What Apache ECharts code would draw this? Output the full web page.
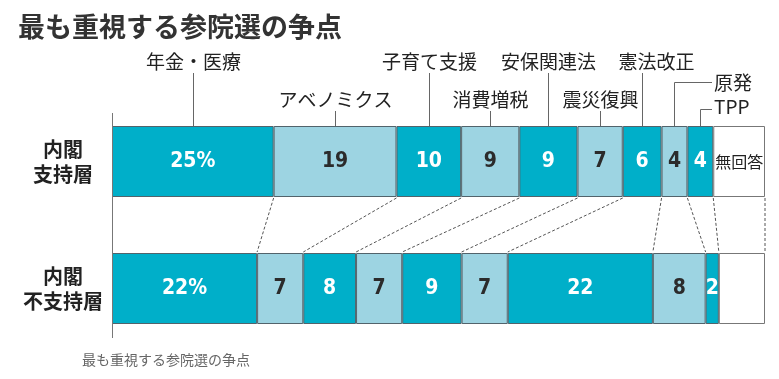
<!DOCTYPE html>
<html><head><meta charset="utf-8">
<script src="https://cdn.jsdelivr.net/npm/echarts@6/dist/echarts.min.js"></script>
<style>html,body{margin:0;padding:0;background:#fff}#c{width:779px;height:379px}</style>
</head><body><div id="c"></div>
<script>
const titleText = '最も重視する参院選の争点';
const footerText = '最も重視する参院選の争点';
const groups = ['内閣\n支持層', '内閣\n不支持層'];
const issues = ['年金・医療', 'アベノミクス', '子育て支援', '消費増税', '安保関連法', '震災復興', '憲法改正', '原発', 'TPP', '無回答'];
const support = [25, 19, 10, 9, 9, 7, 6, 4, 4, 8];
const nonSupport = [22, 7, 8, 7, 9, 7, 22, 8, 2, 7];

const DARK = '#00AFC9', LIGHT = '#9DD4E2', BORDER = '#52636b';
const NUMFONT = "'Liberation Sans Narrow','DejaVu Sans Condensed','Liberation Sans',sans-serif";
const CJK = "'Noto Sans CJK JP','Noto Sans',sans-serif";
const BARW = 71;

function colorOf(i) { return i === issues.length - 1 ? '#ffffff' : (i % 2 === 0 ? DARK : LIGHT); }
function textColorOf(i) { return i % 2 === 0 ? '#ffffff' : '#2b2b2b'; }

const sum = a => a.reduce((s, v) => s + v, 0);
const series = [];
issues.forEach((name, i) => {
  const last = i === issues.length - 1;
  const baseLabel = {
    show: true, position: 'inside',
    color: last ? '#222' : textColorOf(i),
    fontFamily: last ? CJK : NUMFONT,
    fontWeight: last ? 'normal' : 'bold',
    fontSize: last ? 16 : 21
  };
  series.push({
    name: name, type: 'bar', stack: 'top', xAxisIndex: 0, yAxisIndex: 0,
    barWidth: BARW, barGap: '-100%',
    itemStyle: { color: colorOf(i), borderColor: last ? '#777' : BORDER, borderWidth: 1 },
    label: Object.assign({}, baseLabel, { formatter: last ? '無回答' : (i === 0 ? '{c}%' : '{c}') }),
    data: [support[i], '-']
  });
  series.push({
    name: name, type: 'bar', stack: 'bottom', xAxisIndex: 1, yAxisIndex: 0,
    barWidth: BARW, barGap: '-100%',
    itemStyle: { color: colorOf(i), borderColor: last ? '#777' : BORDER, borderWidth: 1 },
    label: Object.assign({}, baseLabel, { show: !last, formatter: i === 0 ? '{c}%' : '{c}' }),
    data: ['-', nonSupport[i]]
  });
});

const option = {
  animation: false,
  backgroundColor: '#fff',
  title: [
    { text: titleText, left: 13, top: 8, textStyle: { fontFamily: CJK, fontSize: 27, fontWeight: 'bold', color: '#333' } },
    { text: footerText, left: 77, top: 348, textStyle: { fontFamily: CJK, fontSize: 14, fontWeight: 'normal', color: '#666' } }
  ],
  grid: { left: 112, right: 14, top: 98, height: 254 },
  xAxis: [
    { type: 'value', min: 0, max: sum(support), show: false },
    { type: 'value', min: 0, max: sum(nonSupport), show: false }
  ],
  yAxis: {
    type: 'category', data: groups, inverse: true,
    axisLine: { show: false }, axisTick: { show: false }, splitLine: { show: false },
    axisLabel: { color: '#222', fontFamily: CJK, fontWeight: 'bold', fontSize: 20, lineHeight: 25, align: 'center', margin: 49 }
  },
  series: series
};

const chart = echarts.init(document.getElementById('c'));
chart.setOption(option);

// overlays computed from the chart's own scales
const cum = a => { const r = [0]; a.forEach(v => r.push(r[r.length - 1] + v)); return r; };
const cT = cum(support), cB = cum(nonSupport);
const xT = v => chart.convertToPixel({ xAxisIndex: 0 }, v);
const xB = v => chart.convertToPixel({ xAxisIndex: 1 }, v);
const yT = chart.convertToPixel({ yAxisIndex: 0 }, 0);
const yB = chart.convertToPixel({ yAxisIndex: 0 }, 1);
const topTop = yT - BARW / 2, topBot = yT + BARW / 2, botTop = yB - BARW / 2, botBot = yB + BARW / 2;
const crisp = v => Math.round(v) + 0.5;

const g = [];
// left axis line
const x0 = crisp(xT(0));
g.push({ type: 'line', shape: { x1: x0, y1: topTop - 13, x2: x0, y2: botBot + 14 }, style: { stroke: '#777', lineWidth: 1 }, z: 10 });
// dashed connectors
for (let k = 1; k < cT.length; k++) {
  g.push({ type: 'line', shape: { x1: xT(cT[k]), y1: topBot + 1, x2: xB(cB[k]), y2: botTop - 1 },
    style: { stroke: '#555', lineWidth: 1, lineDash: [3, 2] }, z: 10 });
}
// leader labels
const rowY = [62, 100];
const labelShift = [0, 0, 0, 0, 0, 0, 14];
const labelStyle = { fill: '#222', font: '19px ' + CJK, textVerticalAlign: 'middle' };
for (let i = 0; i < 7; i++) {
  const cx = crisp((xT(cT[i]) + xT(cT[i + 1])) / 2);
  const ly = rowY[i % 2];
  g.push({ type: 'line', shape: { x1: cx, y1: ly + 11, x2: cx, y2: topTop }, style: { stroke: '#666', lineWidth: 1 }, z: 10 });
  g.push({ type: 'text', style: Object.assign({ text: issues[i], x: cx + labelShift[i], y: ly, textAlign: 'center' }, labelStyle), z: 10 });
}
// elbow labels for 原発 and TPP
const elbow = [{ i: 7, y: 82, ty: 83 }, { i: 8, y: 109, ty: 107 }];
elbow.forEach(e => {
  const cx = crisp((xT(cT[e.i]) + xT(cT[e.i + 1])) / 2);
  const ey = crisp(e.y);
  g.push({ type: 'polyline', shape: { points: [[cx, topTop], [cx, ey], [712, ey]] }, style: { stroke: '#666', lineWidth: 1, fill: null }, z: 10 });
  g.push({ type: 'text', style: Object.assign({ text: issues[e.i], x: 714, y: e.ty, textAlign: 'left' }, labelStyle), z: 10 });
});
chart.setOption({ graphic: g });
</script>
</body></html>
